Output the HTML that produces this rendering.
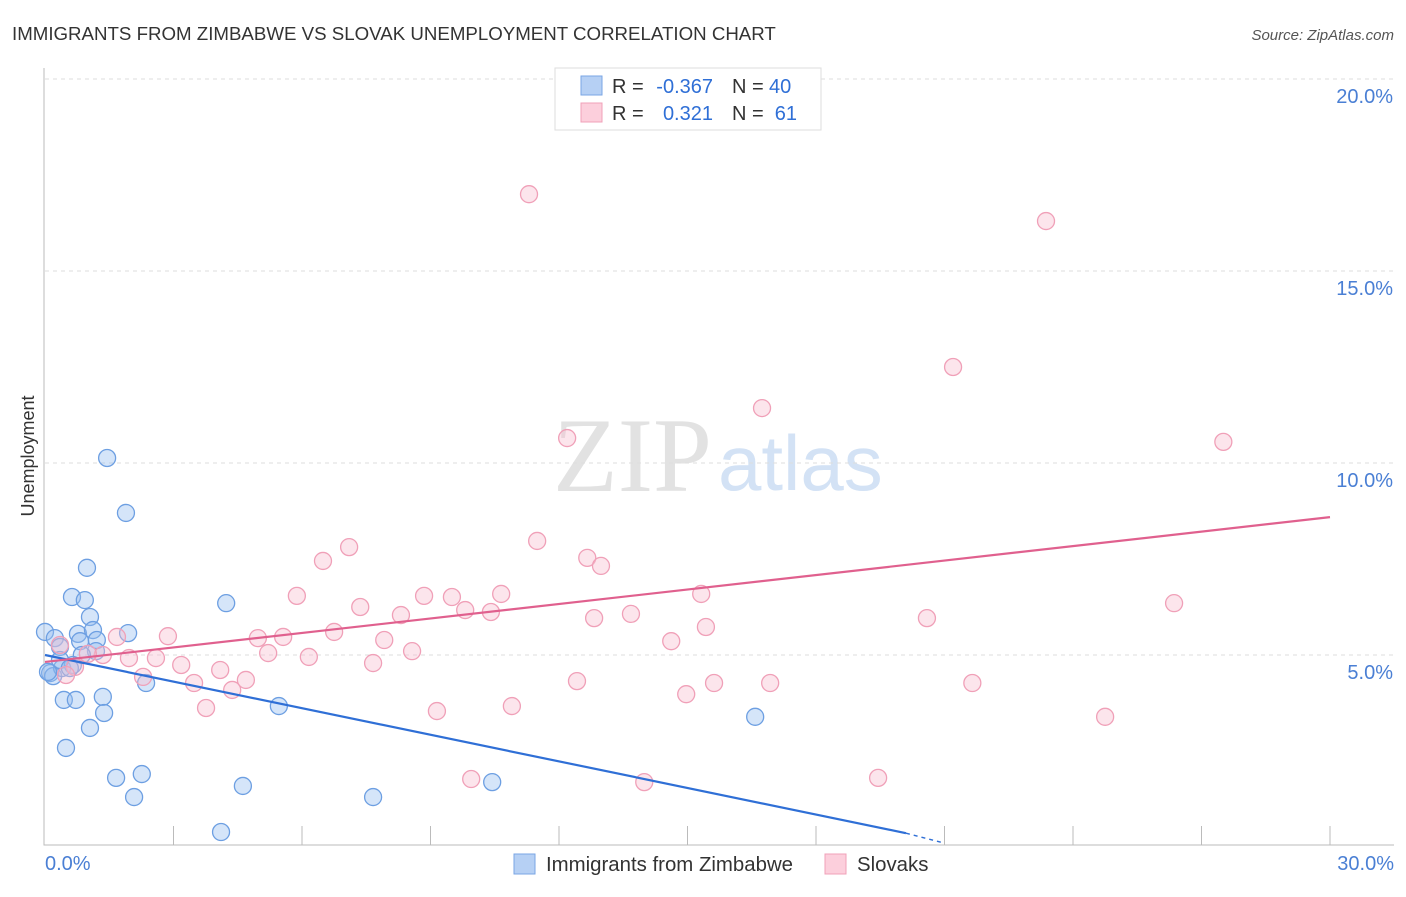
<!DOCTYPE html>
<html><head><meta charset="utf-8"><style>
body{margin:0;background:#fff;font-family:"Liberation Sans",sans-serif}
</style></head><body>
<svg width="1406" height="892" xmlns="http://www.w3.org/2000/svg" style="font-family:'Liberation Sans',sans-serif">
<text x="12" y="40" font-size="18.7" fill="#333">IMMIGRANTS FROM ZIMBABWE VS SLOVAK UNEMPLOYMENT CORRELATION CHART</text>
<text x="1394" y="40" font-size="15" fill="#555" text-anchor="end" font-style="italic">Source: ZipAtlas.com</text>
<text x="553" y="491" font-size="106" fill="#e2e2e2" font-family="Liberation Serif">ZIP</text>
<text x="718" y="490" font-size="78" fill="#d3e2f5">atlas</text>
<g id="grid"></g><g id="axes"></g><g id="pts"></g><g id="lines"></g>
<text transform="translate(34,456) rotate(-90)" font-size="18" fill="#333" text-anchor="middle">Unemployment</text>
<text x="45" y="870" font-size="20" fill="#4a7fd4">0.0%</text>
<text x="1394" y="870" font-size="20" fill="#4a7fd4" text-anchor="end">30.0%</text>
<g font-size="20">
<rect x="555" y="68" width="266" height="62" fill="#fff" stroke="#ddd"/>
<rect x="581" y="76" width="21" height="19" fill="#b6d0f4" stroke="#7aa6e4"/>
<rect x="581" y="103" width="21" height="19" fill="#fccfdc" stroke="#f0a0b8"/>
<text x="612" y="93" fill="#333">R =</text>
<text x="713" y="93" fill="#2f6fd6" text-anchor="end">-0.367</text>
<text x="732" y="93" fill="#333">N =</text>
<text x="769" y="93" fill="#2f6fd6">40</text>
<text x="612" y="120" fill="#333">R =</text>
<text x="713" y="120" fill="#2f6fd6" text-anchor="end">0.321</text>
<text x="732" y="120" fill="#333">N =</text>
<text x="797" y="120" fill="#2f6fd6" text-anchor="end">61</text>
</g>
<g>
<rect x="514" y="854" width="21" height="20" fill="#b6d0f4" stroke="#7aa6e4"/>
<text x="546" y="871" font-size="20.4" fill="#333">Immigrants from Zimbabwe</text>
<rect x="825" y="854" width="21" height="20" fill="#fccfdc" stroke="#f0a0b8"/>
<text x="857" y="871" font-size="20.4" fill="#333">Slovaks</text>
</g>
</svg>
<script>
const yTicks=[5,10,15,20];
const yTickLabels=["5.0%","10.0%","15.0%","20.0%"];
const xTicks=[3,6,9,12,15,18,21,24,27,30];
const blueX=[0,0.23,0.12,0.19,0.35,0.40,0.63,0.44,0.72,0.49,0.77,0.82,0.93,0.98,1.05,1.12,1.21,1.19,0.86,0.65,1.45,1.89,1.94,1.35,1.38,1.05,1.66,2.26,2.08,2.36,4.23,5.46,4.62,4.11,7.66,10.44,16.58,0.35,0.58,0.07];
const blueY=[5.60,5.44,4.53,4.45,5.21,4.66,6.51,3.83,3.83,2.58,5.55,5.36,6.43,7.27,5.99,5.65,5.39,5.10,5.00,4.74,10.13,8.70,5.57,3.91,3.49,3.10,1.80,1.90,1.30,4.27,6.35,3.67,1.59,0.39,1.30,1.69,3.39,4.87,4.66,4.56];
const pinkX=[11.30,23.37,21.20,16.74,12.19,27.51,11.49,7.10,6.49,12.66,12.98,5.88,8.85,9.50,10.65,15.32,7.36,9.81,10.41,8.31,13.68,12.82,20.59,26.36,6.75,2.87,1.68,4.97,5.56,7.92,15.43,14.62,5.21,8.57,6.16,2.59,1.96,1.35,3.18,4.09,7.66,0.70,2.29,3.48,4.69,4.37,3.76,12.42,15.62,16.93,21.65,14.97,9.15,10.90,24.75,9.95,13.99,19.45,0.35,1.00,0.49];
const pinkY=[17.0,16.3,12.5,11.43,10.65,10.55,7.97,7.81,7.45,7.53,7.32,6.54,6.54,6.51,6.59,6.59,6.25,6.17,6.12,6.04,6.07,5.96,5.96,6.35,5.60,5.49,5.47,5.44,5.47,5.39,5.73,5.36,5.05,5.10,4.95,4.92,4.92,5.00,4.74,4.61,4.79,4.69,4.43,4.27,4.35,4.09,3.62,4.32,4.27,4.27,4.27,3.98,3.54,3.67,3.39,1.77,1.69,1.80,5.26,5.03,4.48];
const blueTrend=[[0,5.0],[20.1,0.36],[21.0,0.1]];
const pinkTrend=[[0,4.82],[30,8.59]];
const X=v=>45+v/30*1285, Y=v=>847-v*38.4;
const NS="http://www.w3.org/2000/svg";
function mk(p,t,a){const e=document.createElementNS(NS,t);for(const k in a)e.setAttribute(k,a[k]);document.getElementById(p).appendChild(e);return e;}
yTicks.forEach((t,i)=>{
 const l=mk('grid','line',{x1:45,x2:1394,y1:Y(t),y2:Y(t),stroke:'#ddd','stroke-dasharray':'4,4'});
 
 
 const tx=mk('grid','text',{x:1393,y:Y(t)+24,'font-size':20,fill:'#4a7fd4','text-anchor':'end'});
 tx.textContent=yTickLabels[i];
 
 
});
const ax=mk('axes','path',{d:'M44,68V845H1394',stroke:'#bbb',fill:'none'});


xTicks.forEach(t=>{
 const l=mk('axes','line',{x1:X(t),x2:X(t),y1:826,y2:845,stroke:'#bbb'});
 
 
});
blueX.forEach((v,i)=>{
 const c=mk('pts','circle',{cx:X(v),cy:Y(blueY[i]),r:8.5,fill:'rgba(150,190,240,0.4)',stroke:'#6d9fe2','stroke-width':1.3});
 
 
});
pinkX.forEach((v,i)=>{
 const c=mk('pts','circle',{cx:X(v),cy:Y(pinkY[i]),r:8.5,fill:'rgba(248,190,208,0.4)',stroke:'#f0a0b8','stroke-width':1.3});
 
 
});
let b=mk('lines','line',{x1:X(blueTrend[0][0]),y1:Y(blueTrend[0][1]),x2:X(blueTrend[1][0]),y2:Y(blueTrend[1][1]),stroke:'#2f6fd6','stroke-width':2.2});


b=mk('lines','line',{x1:X(blueTrend[1][0]),y1:Y(blueTrend[1][1]),x2:X(blueTrend[2][0]),y2:Y(blueTrend[2][1]),stroke:'#2f6fd6','stroke-width':1.5,'stroke-dasharray':'4,4'});


const p=mk('lines','line',{x1:X(pinkTrend[0][0]),y1:Y(pinkTrend[0][1]),x2:X(pinkTrend[1][0]),y2:Y(pinkTrend[1][1]),stroke:'#e0608e','stroke-width':2.2});


</script>
</body></html>
